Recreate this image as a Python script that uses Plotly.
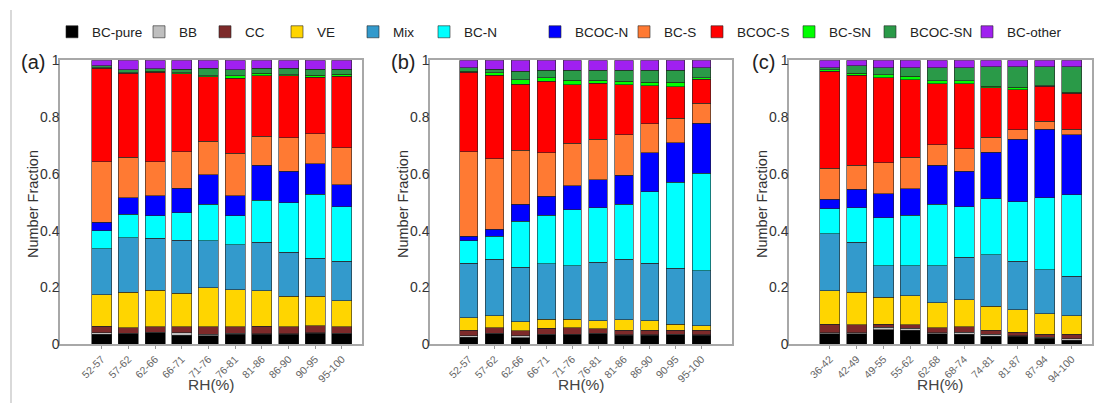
import plotly.graph_objects as go

# ---------------- data ----------------
series_names = ["BC-pure", "BB", "CC", "VE", "Mix", "BC-N", "BCOC-N",
                "BC-S", "BCOC-S", "BC-SN", "BCOC-SN", "BC-other"]
series_colors = ["#000000", "#bfbfbf", "#7d2a2a", "#ffd500", "#339acc", "#00ffff",
                 "#0000ff", "#ff7a33", "#ff0000", "#00ff00", "#2a9a48", "#a020f0"]

rh_a = ["52-57", "57-62", "62-66", "66-71", "71-76", "76-81", "81-86", "86-90", "90-95", "95-100"]
rh_b = ["52-57", "57-62", "62-66", "66-71", "71-76", "76-81", "81-86", "86-90", "90-95", "95-100"]
rh_c = ["36-42", "42-49", "49-55", "55-62", "62-68", "68-74", "74-81", "81-87", "87-94", "94-100"]

# panel (a)
a_bc_pure  = [0.035, 0.037, 0.040, 0.032, 0.030, 0.035, 0.036, 0.036, 0.039, 0.038]
a_bb       = [0.006, 0.002, 0.002, 0.008, 0.005, 0.004, 0.001, 0.001, 0.001, 0.001]
a_cc       = [0.023, 0.020, 0.019, 0.021, 0.026, 0.022, 0.027, 0.024, 0.025, 0.022]
a_ve       = [0.110, 0.124, 0.130, 0.119, 0.139, 0.131, 0.125, 0.108, 0.104, 0.092]
a_mix      = [0.163, 0.193, 0.182, 0.187, 0.165, 0.158, 0.170, 0.156, 0.134, 0.140]
a_bc_n     = [0.062, 0.082, 0.079, 0.097, 0.128, 0.102, 0.149, 0.174, 0.225, 0.192]
a_bcoc_n   = [0.031, 0.058, 0.071, 0.086, 0.104, 0.071, 0.122, 0.110, 0.108, 0.077]
a_bc_s     = [0.212, 0.142, 0.119, 0.128, 0.118, 0.150, 0.102, 0.119, 0.106, 0.130]
a_bcoc_s   = [0.330, 0.296, 0.316, 0.275, 0.227, 0.264, 0.214, 0.218, 0.199, 0.251]
a_bc_sn    = [0.002, 0.002, 0.004, 0.004, 0.004, 0.008, 0.008, 0.004, 0.006, 0.008]
a_bcoc_sn  = [0.006, 0.010, 0.008, 0.012, 0.026, 0.021, 0.018, 0.022, 0.022, 0.018]
a_bc_other = [0.020, 0.034, 0.030, 0.031, 0.028, 0.034, 0.028, 0.028, 0.031, 0.031]

# panel (b)
b_bc_pure  = [0.024, 0.038, 0.023, 0.034, 0.035, 0.038, 0.032, 0.032, 0.034, 0.032]
b_bb       = [0.006, 0.001, 0.007, 0.001, 0.001, 0.001, 0.001, 0.001, 0.001, 0.001]
b_cc       = [0.020, 0.020, 0.017, 0.021, 0.023, 0.015, 0.017, 0.017, 0.015, 0.017]
b_ve       = [0.044, 0.041, 0.033, 0.033, 0.030, 0.029, 0.036, 0.033, 0.020, 0.016]
b_mix      = [0.191, 0.200, 0.191, 0.194, 0.187, 0.206, 0.214, 0.202, 0.198, 0.193]
b_bc_n     = [0.079, 0.081, 0.163, 0.172, 0.197, 0.192, 0.194, 0.253, 0.302, 0.343]
b_bcoc_n   = [0.017, 0.025, 0.059, 0.067, 0.085, 0.098, 0.101, 0.137, 0.140, 0.176]
b_bc_s     = [0.297, 0.248, 0.191, 0.153, 0.150, 0.143, 0.143, 0.101, 0.086, 0.071]
b_bcoc_s   = [0.280, 0.294, 0.231, 0.252, 0.206, 0.197, 0.176, 0.134, 0.111, 0.085]
b_bc_sn    = [0.004, 0.008, 0.017, 0.011, 0.016, 0.011, 0.012, 0.013, 0.015, 0.004]
b_bcoc_sn  = [0.012, 0.013, 0.030, 0.027, 0.035, 0.035, 0.039, 0.042, 0.043, 0.036]
b_bc_other = [0.026, 0.031, 0.038, 0.035, 0.035, 0.035, 0.035, 0.035, 0.035, 0.026]

# panel (c)
c_bc_pure  = [0.037, 0.038, 0.052, 0.050, 0.038, 0.035, 0.029, 0.028, 0.021, 0.014]
c_bb       = [0.004, 0.003, 0.008, 0.006, 0.003, 0.007, 0.006, 0.002, 0.004, 0.005]
c_cc       = [0.029, 0.027, 0.011, 0.012, 0.018, 0.019, 0.015, 0.012, 0.010, 0.016]
c_ve       = [0.119, 0.115, 0.094, 0.103, 0.088, 0.096, 0.084, 0.080, 0.072, 0.066]
c_mix      = [0.200, 0.177, 0.111, 0.105, 0.129, 0.149, 0.182, 0.171, 0.155, 0.138]
c_bc_n     = [0.089, 0.121, 0.170, 0.179, 0.217, 0.179, 0.196, 0.209, 0.254, 0.287]
c_bcoc_n   = [0.033, 0.065, 0.085, 0.093, 0.138, 0.124, 0.165, 0.220, 0.242, 0.211]
c_bc_s     = [0.109, 0.085, 0.109, 0.110, 0.072, 0.080, 0.052, 0.033, 0.028, 0.021]
c_bcoc_s   = [0.342, 0.317, 0.299, 0.274, 0.215, 0.229, 0.175, 0.142, 0.122, 0.126]
c_bc_sn    = [0.005, 0.006, 0.010, 0.012, 0.010, 0.010, 0.005, 0.009, 0.002, 0.003]
c_bcoc_sn  = [0.007, 0.027, 0.025, 0.030, 0.046, 0.046, 0.069, 0.072, 0.068, 0.091]
c_bc_other = [0.026, 0.019, 0.026, 0.026, 0.026, 0.026, 0.022, 0.022, 0.022, 0.022]

panel_a = [a_bc_pure, a_bb, a_cc, a_ve, a_mix, a_bc_n, a_bcoc_n, a_bc_s, a_bcoc_s, a_bc_sn, a_bcoc_sn, a_bc_other]
panel_b = [b_bc_pure, b_bb, b_cc, b_ve, b_mix, b_bc_n, b_bcoc_n, b_bc_s, b_bcoc_s, b_bc_sn, b_bcoc_sn, b_bc_other]
panel_c = [c_bc_pure, c_bb, c_cc, c_ve, c_mix, c_bc_n, c_bcoc_n, c_bc_s, c_bcoc_s, c_bc_sn, c_bcoc_sn, c_bc_other]

# ---------------- figure ----------------
# the page body has an 8px margin, so the figure is drawn 8px in from the window corner
OFF = 8
W, H = 1103 - OFF, 403 - OFF
FONT = "Liberation Sans, Arial, sans-serif"


def px_x(px):
    return (px - OFF) / W


def px_y(py):
    return 1 - (py - OFF) / H


# x position (window px) where each legend label text starts
legend_text_px = [92, 179, 245, 317, 393, 464, 575, 664, 737, 829, 910, 1007]

panels = [
    (panel_a, rh_a, "x", "y", 0.75),
    (panel_b, rh_b, "x2", "y2", 0.71),
    (panel_c, rh_c, "x3", "y3", 0.75),
]

fig = go.Figure()
for pi, (vals, cats, xa, ya, bw) in enumerate(panels):
    for si, (name, color, v) in enumerate(zip(series_names, series_colors, vals)):
        fig.add_trace(go.Bar(
            x=cats, y=v, name=name, xaxis=xa, yaxis=ya,
            marker=dict(color=color, line=dict(color="rgba(35,35,35,0.85)", width=0.7)),
            width=bw, legendgroup=name, showlegend=(pi == 0),
            legend="legend" if si == 0 else "legend%d" % (si + 1),
        ))

x_domains = [(px_x(60), px_x(362)), (px_x(430), px_x(732)), (px_x(789), px_x(1092))]
y_domain = (px_y(344.3), px_y(60.3))
x_ranges = [(-1.56, 9.75), (-1.5, 10.18), (-1.52, 9.76)]

axis_line = dict(showline=True, linecolor="#a8a8a8", linewidth=1.5, mirror=True)
layout = dict(
    width=W, height=H, barmode="stack",
    paper_bgcolor="white", plot_bgcolor="white",
    margin=dict(l=0, r=0, t=0, b=0, pad=0, autoexpand=False),
    font=dict(family=FONT, color="#333333"),
    showlegend=True,
)
for si in range(len(series_names)):
    key = "legend" if si == 0 else "legend%d" % (si + 1)
    layout[key] = dict(orientation="h", x=px_x(legend_text_px[si] - 40), xanchor="left",
                       y=px_y(32), yanchor="middle",
                       font=dict(size=13.5, color="#222222", family=FONT),
                       itemwidth=30, bgcolor="rgba(0,0,0,0)", borderwidth=0)
for i in range(3):
    sx = "" if i == 0 else str(i + 1)
    layout["xaxis" + sx] = dict(
        domain=x_domains[i], anchor="y" + sx, range=list(x_ranges[i]),
        type="category", tickangle=-45, ticks="outside", ticklen=3,
        tickcolor="#999999", tickfont=dict(size=10.5, color="#666666"),
        showgrid=False, zeroline=False, automargin=False,
        **axis_line,
    )
    layout["yaxis" + sx] = dict(
        domain=y_domain, anchor="x" + sx, range=[0, 1],
        tickvals=[0, 0.2, 0.4, 0.6, 0.8, 1], ticktext=["0", "0.2", "0.4", "0.6", "0.8", "1"],
        ticks="", tickfont=dict(size=14, color="#333333"), ticklabelstandoff=-4,
        showgrid=False, zeroline=False, automargin=False,
        **axis_line,
    )
fig.update_layout(**layout)

# axis titles
for (d0, d1) in x_domains:
    fig.add_annotation(text="RH(%)", xref="paper", yref="paper", x=(d0 + d1) / 2, y=px_y(384),
                       xanchor="center", yanchor="middle", showarrow=False,
                       font=dict(size=15.5, color="#444444", family=FONT))
for px in [33, 403, 762]:
    fig.add_annotation(text="Number Fraction", xref="paper", yref="paper", x=px_x(px), y=px_y(204),
                       xanchor="center", yanchor="middle", showarrow=False, textangle=-90,
                       font=dict(size=14.5, color="#333333", family=FONT))

# panel letters
for lbl, px in [("(a)", 47), ("(b)", 417), ("(c)", 777)]:
    fig.add_annotation(text=lbl, xref="paper", yref="paper", x=px_x(px), y=px_y(62),
                       xanchor="right", yanchor="middle", showarrow=False,
                       font=dict(size=20, color="#222222", family=FONT))

# thin page border on the left
fig.add_shape(type="line", xref="paper", yref="paper", x0=px_x(11), x1=px_x(11), y0=0, y1=px_y(10),
              line=dict(color="#cccccc", width=1.5))

fig.write_html("out.html")
